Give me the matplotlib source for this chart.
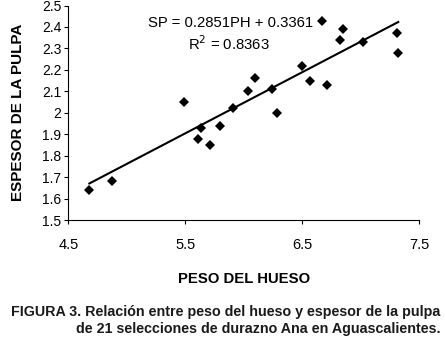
import numpy as np
import matplotlib
matplotlib.use('Agg')
import matplotlib.pyplot as plt

plt.rcParams['font.family'] = ['Liberation Sans', 'DejaVu Sans']

# peso del hueso (PH) y espesor de la pulpa (SP), 21 selecciones
peso_hueso = [4.68, 4.87, 5.49, 5.63, 5.61, 5.71, 5.80, 5.91, 6.04, 6.10, 6.24,
              6.28, 6.50, 6.57, 6.71, 6.67, 6.82, 6.85, 7.02, 7.31, 7.32]
espesor_pulpa = [1.64, 1.68, 2.05, 1.93, 1.88, 1.85, 1.94, 2.02, 2.10, 2.16, 2.11,
                 2.00, 2.22, 2.15, 2.13, 2.43, 2.34, 2.39, 2.33, 2.37, 2.28]
pendiente = 0.2851
intercepto = 0.3361
r2 = 0.8363

x_ticks = [4.5, 5.5, 6.5, 7.5]
y_ticks = [1.5, 1.6, 1.7, 1.8, 1.9, 2.0, 2.1, 2.2, 2.3, 2.4, 2.5]
y_tick_labels = ['1.5', '1.6', '1.7', '1.8', '1.9', '2', '2.1', '2.2', '2.3', '2.4', '2.5']

fig = plt.figure(figsize=(4.45, 3.4), dpi=100)
ax = fig.add_axes([0.1535, 0.3529, 0.7887, 0.6309])

ax.plot(peso_hueso, espesor_pulpa, 'D', color='black', markersize=4.6, markeredgewidth=0)

x_line = np.array([min(peso_hueso), max(peso_hueso)])
ax.plot(x_line, pendiente * x_line + intercepto, color='black', linewidth=1.5)

ax.set_xlim(4.5, 7.5)
ax.set_ylim(1.5, 2.5)
ax.set_xticks(x_ticks)
ax.set_xticklabels([str(t) for t in x_ticks])
ax.set_yticks(y_ticks)
ax.set_yticklabels(y_tick_labels)
ax.tick_params(direction='out', length=3, width=0.8, labelsize=10, pad=2)
ax.tick_params(axis='x', labelsize=10.5, pad=10)
for s in ['top', 'right']:
    ax.spines[s].set_visible(False)

ax.set_xlabel('PESO DEL HUESO', fontsize=10.7, fontweight='bold', labelpad=14)
ax.set_ylabel('ESPESOR DE LA PULPA', fontsize=11, fontweight='bold', labelpad=12)

ax.text(0.461, 0.918, 'SP = %.4fPH + %.4f' % (pendiente, intercepto),
        transform=ax.transAxes, ha='center', va='center', fontsize=10.7)
ax.text(0.458, 0.822, 'R$^2$ = %.4f' % r2,
        transform=ax.transAxes, ha='center', va='center', fontsize=10.7)

fig.text(0.989, 0.083, 'FIGURA 3. Relación entre peso del hueso y espesor de la pulpa',
         ha='right', va='center', fontsize=10.3, fontweight='bold', color='#1a1a1a')
fig.text(0.989, 0.033, 'de 21 selecciones de durazno Ana en Aguascalientes.',
         ha='right', va='center', fontsize=10.3, fontweight='bold', color='#1a1a1a')

fig.savefig('out.png', dpi=100)
